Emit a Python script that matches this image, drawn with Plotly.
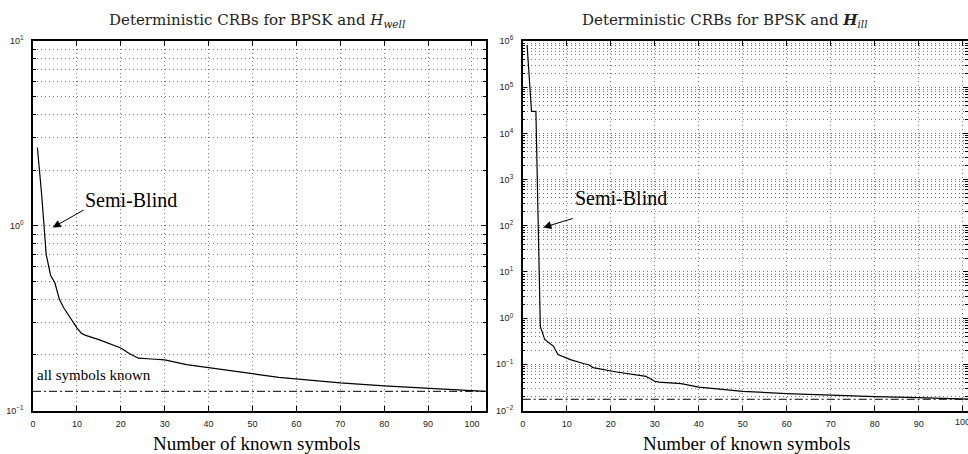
import plotly.graph_objects as go

# ---------------- data ----------------
x_well = [1, 2, 3, 4, 5, 6, 7, 8, 9, 10, 11, 12, 15, 17, 19, 20, 22, 24, 27, 30,
          35, 40, 47, 51, 56, 60, 70, 80, 90, 103]
crb_well = [2.65, 1.45, 0.70, 0.54, 0.49, 0.40, 0.36, 0.33, 0.305, 0.28, 0.262, 0.255,
            0.242, 0.233, 0.224, 0.218, 0.203, 0.192, 0.190, 0.188,
            0.177, 0.170, 0.161, 0.157, 0.151, 0.148, 0.141, 0.136, 0.132, 0.127]
known_well = 0.127

x_ill = [1, 2, 3, 4, 5, 6, 7, 8, 10, 11, 14, 15, 16, 21, 28, 30, 31, 36, 40, 45,
         50, 60, 70, 80, 90, 101, 102]
crb_ill = [8.2e5, 3.0e4, 3.0e4, 0.66, 0.345, 0.29, 0.245, 0.163, 0.135, 0.125, 0.103,
           0.098, 0.085, 0.069, 0.055, 0.043, 0.041, 0.038, 0.032, 0.029,
           0.026, 0.0233, 0.0214, 0.0200, 0.0190, 0.0177, 0.0176]
known_ill = 0.0175

x_ticks = [0, 10, 20, 30, 40, 50, 60, 70, 80, 90, 100]
y_exp_left = [-1, 0, 1]
y_exp_right = [-2, -1, 0, 1, 2, 3, 4, 5, 6]

title_left = "Deterministic CRBs for BPSK and <i>H</i><sub><i>well</i></sub>"
title_right = "Deterministic CRBs for BPSK and <b><i>H</i></b><sub><i>ill</i></sub>"
xlabel = "Number of known symbols"
label_semi = "Semi-Blind"
label_known = "all symbols known"

# ---------------- layout ----------------
W, H = 968, 454
def px(v):
    return v / W
def py(v):
    return 1 - v / H

ydom = [py(410.5), py(41)]
serif = "Liberation Serif, Times New Roman, serif"
tickfont = dict(family="Liberation Sans, Arial, sans-serif", size=9, color="#222")
gridc = "#777"
griddash = "1px,3px"

def sup(e):
    s = str(e).replace("-", "\u2212")
    return "10<sup>" + s + "</sup>"

def minor_vals(exps):
    vals = []
    for e in exps[:-1]:
        for d in range(2, 10):
            vals.append(d * 10.0 ** e)
    return vals

fig = go.Figure()
fig.add_trace(go.Scatter(x=x_well, y=crb_well, mode="lines",
                         line=dict(color="black", width=1.2), xaxis="x", yaxis="y",
                         showlegend=False))
fig.add_trace(go.Scatter(x=[0, 103.2], y=[known_well, known_well], mode="lines",
                         line=dict(color="black", width=1, dash="8px,3px,2px,3px"),
                         xaxis="x", yaxis="y", showlegend=False))
fig.add_trace(go.Scatter(x=x_ill, y=crb_ill, mode="lines",
                         line=dict(color="black", width=1.2), xaxis="x2", yaxis="y2",
                         showlegend=False))
fig.add_trace(go.Scatter(x=[0, 102], y=[known_ill, known_ill], mode="lines",
                         line=dict(color="black", width=1, dash="8px,3px,2px,3px"),
                         xaxis="x2", yaxis="y2", showlegend=False))

def xax(domain, rng, anchor):
    return dict(domain=domain, range=rng, anchor=anchor, tickvals=x_ticks,
                ticks="inside", ticklen=5, tickcolor="black", showline=True,
                linecolor="black", linewidth=1.5, mirror="allticks",
                showgrid=True, gridcolor=gridc, griddash=griddash, gridwidth=1,
                zeroline=False, tickfont=tickfont, ticklabelstandoff=4,
                automargin=False)

def yax(domain, exps, anchor):
    return dict(domain=domain, type="log", range=[exps[0], exps[-1]], anchor=anchor,
                tickmode="array", tickvals=[10.0 ** e for e in exps],
                ticktext=[sup(e) for e in exps],
                ticks="inside", ticklen=5, tickcolor="black",
                showline=True, linecolor="black", linewidth=1.5, mirror="allticks",
                showgrid=True, gridcolor=gridc, griddash=griddash, gridwidth=1,
                minor=dict(tickmode="array", tickvals=minor_vals(exps),
                           ticks="inside", ticklen=3, tickcolor="black",
                           showgrid=True, gridcolor=gridc, griddash=griddash, gridwidth=1),
                zeroline=False, tickfont=tickfont, ticklabelstandoff=6,
                automargin=False)

fig.update_layout(
    width=W, height=H, margin=dict(l=0, r=0, t=0, b=0),
    paper_bgcolor="white", plot_bgcolor="white",
    xaxis=xax([px(33), px(486)], [0, 103.2], "y"),
    yaxis=yax(ydom, y_exp_left, "x"),
    xaxis2=xax([px(522.7), 1.0], [0, 101.2], "y2"),
    yaxis2=yax(ydom, y_exp_right, "x2"),
)

ann = []
# titles
for txt, cx in ((title_left, 257), (title_right, 725)):
    ann.append(dict(text=txt, xref="paper", yref="paper", x=px(cx), y=py(20),
                    xanchor="center", yanchor="middle", showarrow=False,
                    font=dict(family="DejaVu Serif, serif", size=15, color="#222")))
# axis titles
for cx in (256, 746):
    ann.append(dict(text=xlabel, xref="paper", yref="paper", x=px(cx), y=py(443),
                    xanchor="center", yanchor="middle", showarrow=False,
                    font=dict(family=serif, size=19, color="black")))
# last tick label of the right plot, cut by the page edge as in the original
ann.append(dict(text=str(x_ticks[-1]), xref="x2", yref="paper", x=x_ticks[-1],
                y=py(421.5), xanchor="center", yanchor="middle", showarrow=False,
                font=tickfont))
# Semi-Blind labels + arrows
ann.append(dict(text=label_semi, xref="x", yref="y", x=22.3, y=0.138,
                xanchor="center", yanchor="middle", showarrow=False,
                font=dict(family=serif, size=20, color="black")))
ann.append(dict(text="", xref="x", yref="y", x=4.49, y=-0.0098,
                axref="x", ayref="y", ax=11.85, ay=0.0894, showarrow=True,
                arrowhead=2, arrowsize=1.6, arrowwidth=1, arrowcolor="black"))
ann.append(dict(text=label_semi, xref="x2", yref="y2", x=22.3, y=2.605,
                xanchor="center", yanchor="middle", showarrow=False,
                font=dict(family=serif, size=20, color="black")))
ann.append(dict(text="", xref="x2", yref="y2", x=4.68, y=1.963,
                axref="x2", ayref="y2", ax=11.73, ay=2.167, showarrow=True,
                arrowhead=2, arrowsize=1.6, arrowwidth=1, arrowcolor="black"))
# all symbols known
ann.append(dict(text=label_known, xref="x", yref="y", x=0.45, y=-0.81,
                xanchor="left", yanchor="middle", showarrow=False,
                font=dict(family=serif, size=15, color="black")))
ann.append(dict(text=label_known, xref="x2", yref="y2", x=-0.2, y=-1.401,
                xanchor="left", yanchor="middle", showarrow=False,
                font=dict(family=serif, size=15, color="black")))
fig.update_layout(annotations=ann)

fig.write_html("out.html", config={"displayModeBar": False},
               post_script="document.body.style.margin='0px';document.body.style.overflow='hidden';")
